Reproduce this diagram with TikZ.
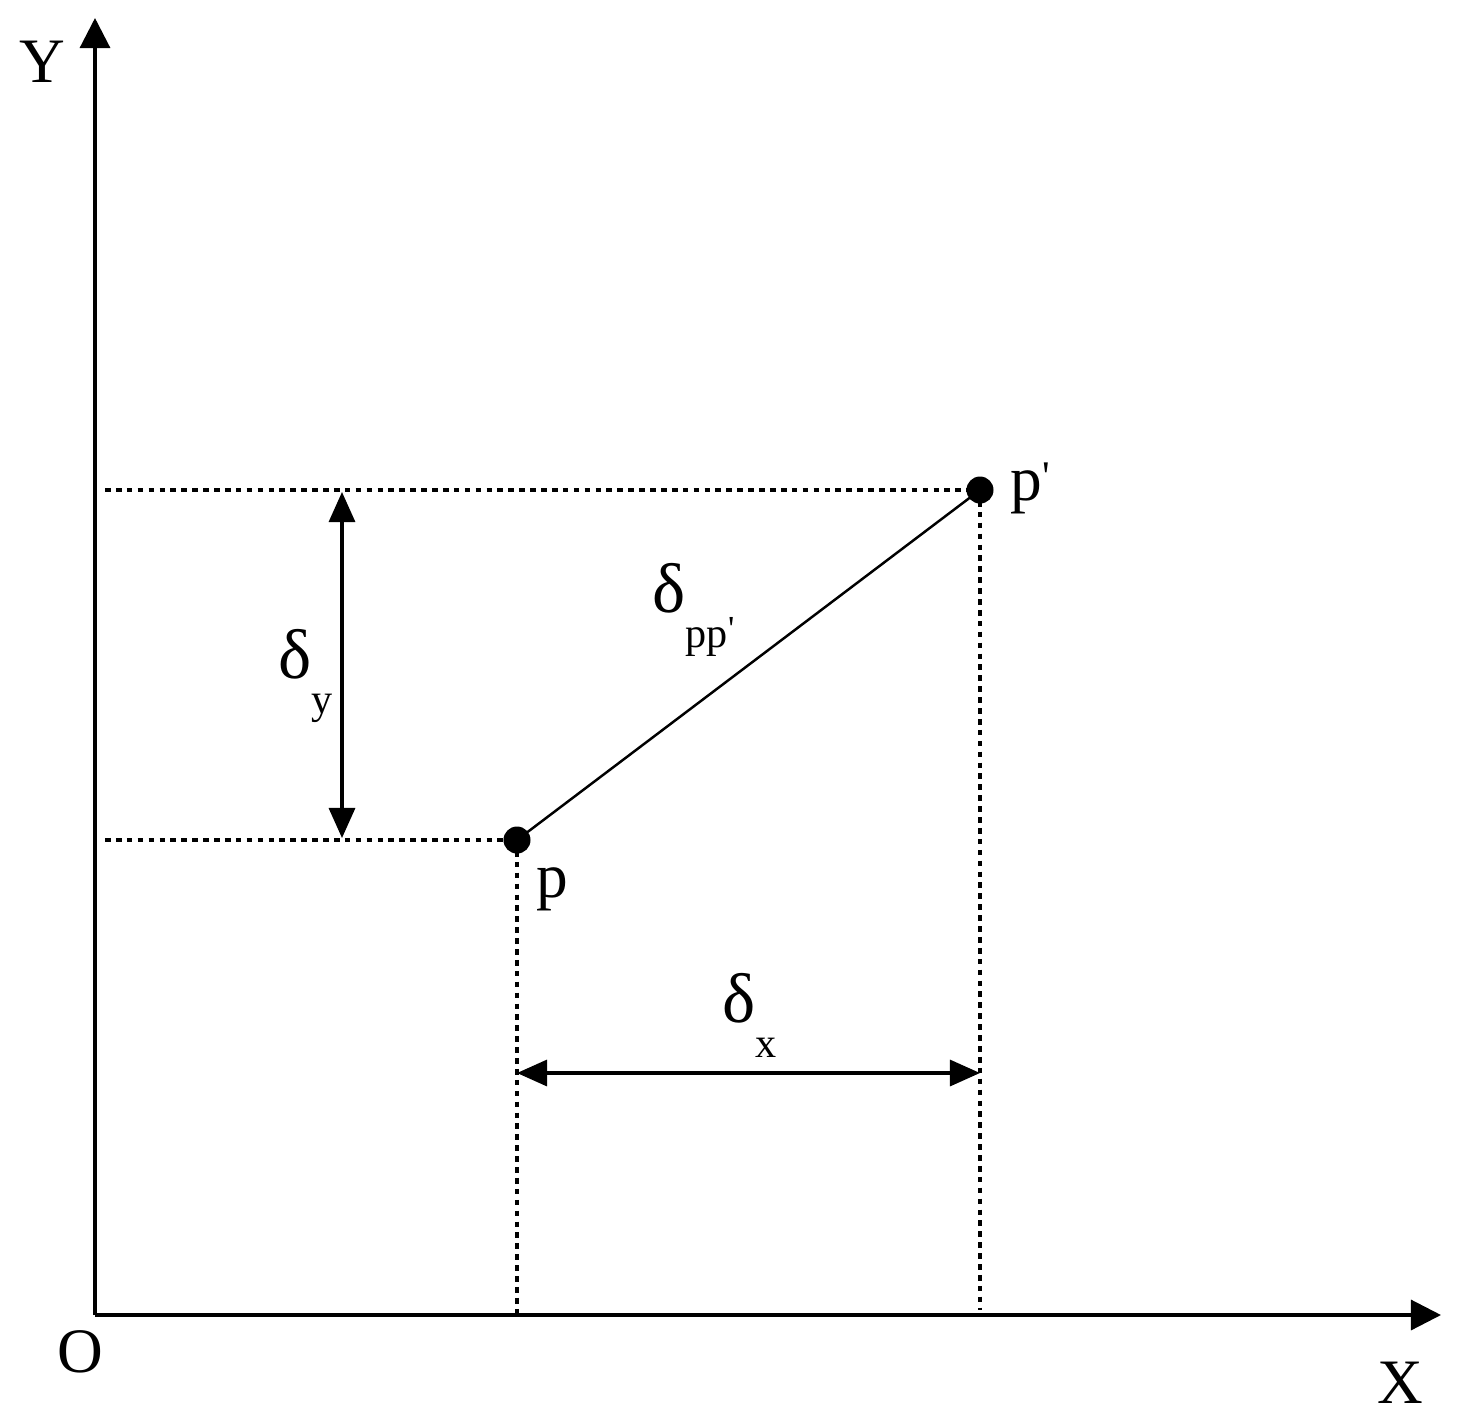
\documentclass[tikz,border=0pt]{standalone}
\usepackage{fontspec}
\setmainfont{Liberation Serif}
\usetikzlibrary{arrows.meta}
\begin{document}
\begin{tikzpicture}[x=0.01cm,y=-0.01cm,
  axis/.style={line width=0.9pt,-{Triangle[length=0.3cm,width=0.3cm]}},
  guide/.style={line width=0.9pt,dash pattern=on 1.6pt off 1.5pt},
  dim/.style={line width=0.9pt,{Triangle[length=0.3cm,width=0.26cm]}-{Triangle[length=0.3cm,width=0.26cm]}},
  seg/.style={line width=0.7pt},
  pt/.style={circle,fill=black,inner sep=0pt,minimum size=0.27cm},
  lbl/.style={inner sep=0pt,font=\fontsize{18}{20}\selectfont},
  dl/.style={inner sep=0pt,font=\fontsize{20}{22}\selectfont}
]
\useasboundingbox (0,0) rectangle (1459,1423);
\newcommand{\sbx}[1]{\raisebox{-0.5em}{\fontsize{12}{12}\selectfont #1}}
\coordinate (O) at (95,1315);
\coordinate (Ytop) at (95,18);
\coordinate (Xend) at (1441,1315);
\node[pt] (p) at (517,840) {};
\node[pt] (pp) at (980,490) {};
\coordinate (hl1) at (105,490);
\coordinate (hl2) at (105,840);
\coordinate (pbot) at (517,1315);
\coordinate (ppbot) at (980,1310);
\coordinate (dyt) at (342,492);
\coordinate (dyb) at (342,838);
\coordinate (dxl) at (517,1073);
\coordinate (dxr) at (980,1073);

\draw[axis] (O) -- (Ytop);
\draw[axis] (O) -- (Xend);
\draw[guide] (hl1) -- (pp.center);
\draw[guide] (hl2) -- (p.center);
\draw[guide] (p.center) -- (pbot);
\draw[guide] (pp.center) -- (ppbot);
\draw[seg] (p.center) -- (pp.center);
\draw[dim] (dyt) -- (dyb);
\draw[dim] (dxl) -- (dxr);

\node[lbl] (lY) at (42,62) {Y};
\node[lbl] (lO) at (80,1352) {O};
\node[lbl] (lX) at (1400,1383) {X};
\node[lbl,anchor=base west] (lp) at (536,897) {p};
\node[lbl,anchor=base west] (lpp) at (1010,500) {p\raisebox{0.15em}{\fontsize{12}{12}\selectfont\textquotesingle}};
\node[dl,anchor=base west] (ldpp) at (652,612) {δ\sbx{pp\raisebox{0.15em}{\fontsize{10}{10}\selectfont\textquotesingle}}};
\node[dl,anchor=base west] (ldy) at (278,678) {δ\sbx{y}};
\node[dl,anchor=base west] (ldx) at (722,1022) {δ\sbx{x}};
\end{tikzpicture}
\end{document}
